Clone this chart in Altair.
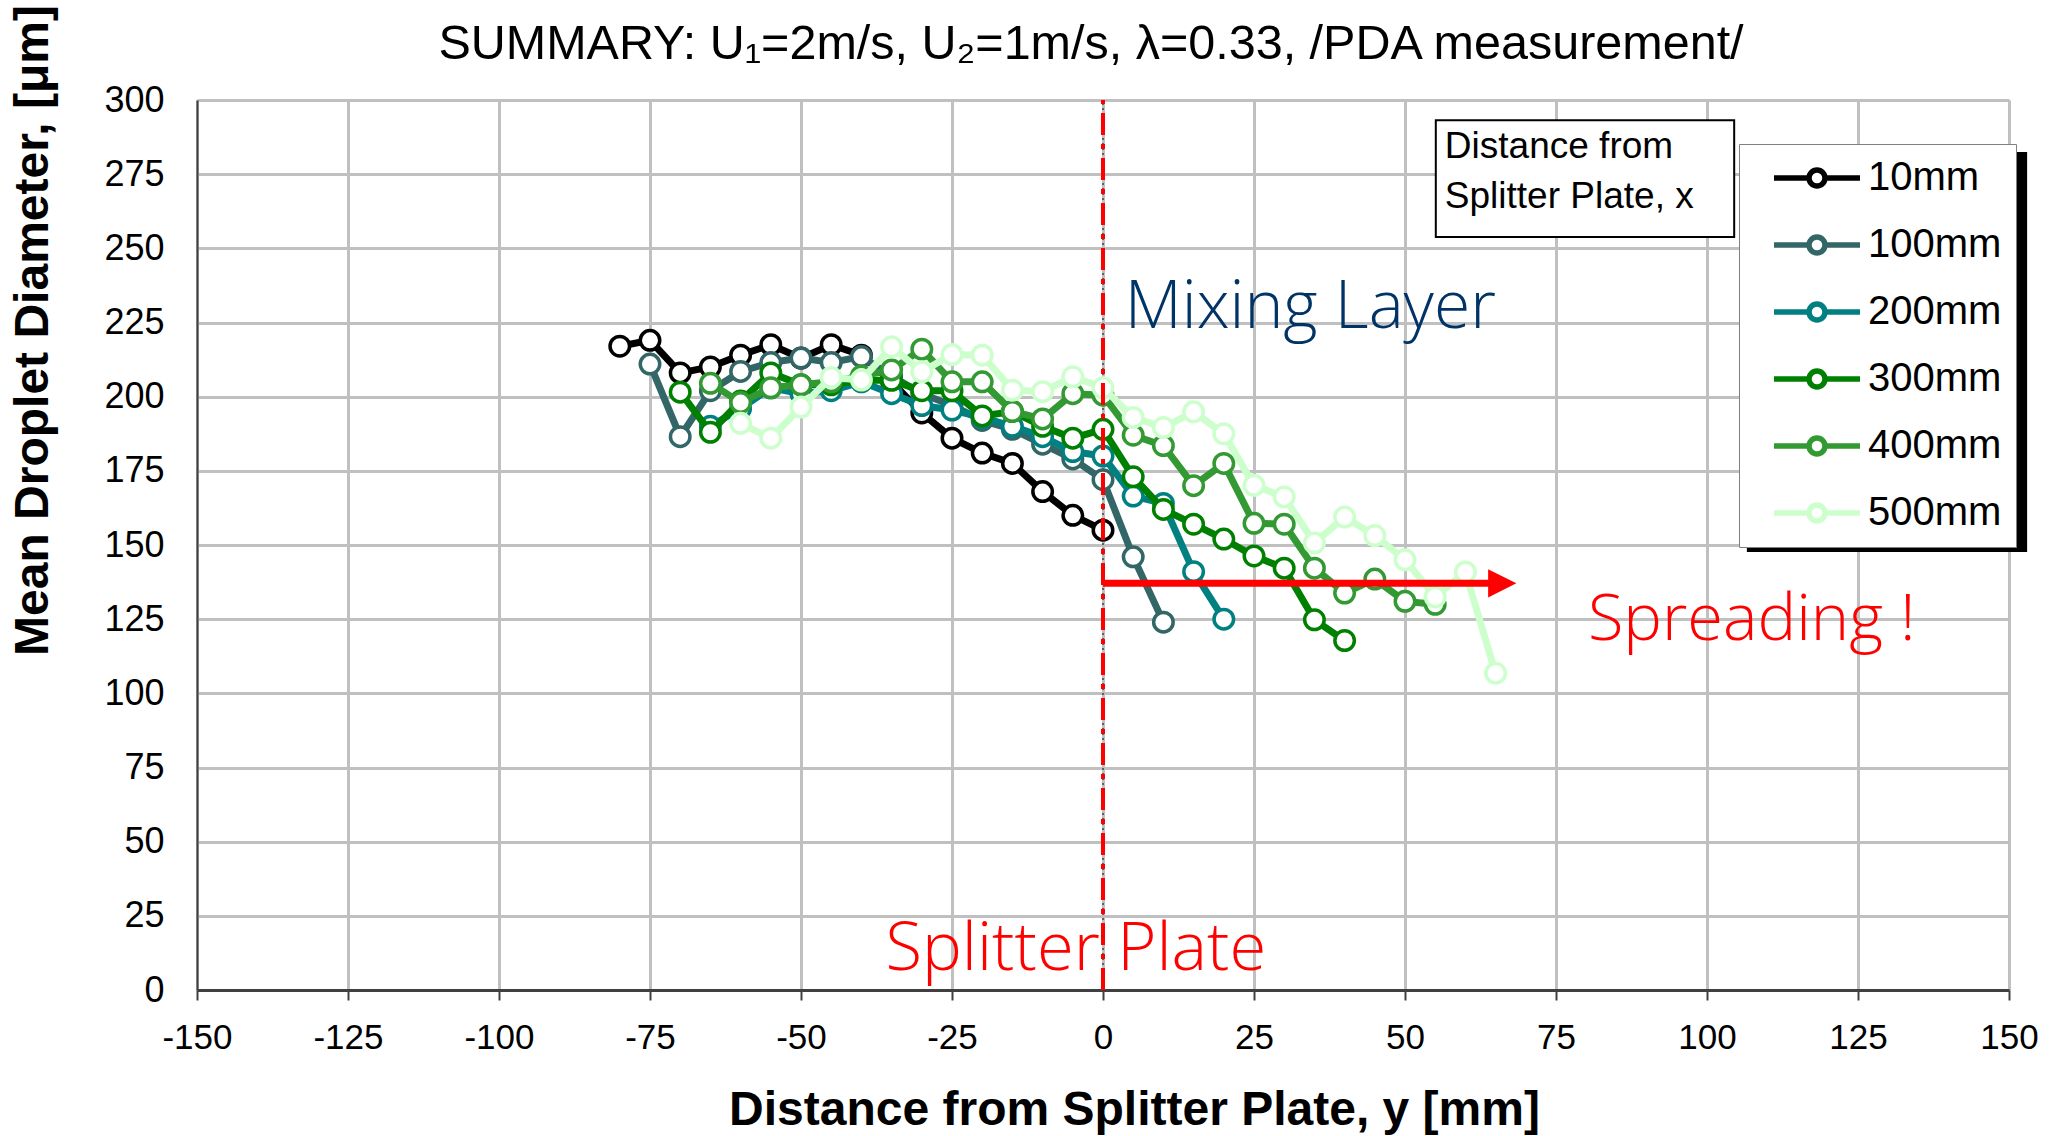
import altair as alt
import pandas as pd

# ---------------- data ----------------
series_names = ["10mm", "100mm", "200mm", "300mm", "400mm", "500mm"]
series_colors = ["#000000", "#336666", "#008080", "#008000", "#339933", "#CCFFCC"]

y_10 = [-80, -75, -70, -65, -60, -55, -50, -45, -40, -35, -30, -25, -20, -15, -10, -5, 0]
d_10 = [217, 219, 208, 210, 214, 217.5, 213, 217.5, 214, 205, 194.5, 186, 181, 177.5, 168, 160, 155]

y_100 = [-75, -70, -65, -60, -55, -50, -45, -40, -35, -30, -25, -20, -15, -10, -5, 0, 5, 10]
d_100 = [211, 186.5, 202, 208.5, 211.5, 213, 211.5, 213.5, 207, 201, 197, 192, 189, 184, 179, 172, 146, 124]

y_200 = [-65, -60, -55, -50, -45, -40, -35, -30, -25, -20, -15, -10, -5, 0, 5, 10, 15, 20]
d_200 = [190, 196, 203, 201, 202, 205, 201, 197, 195.5, 193, 190, 186.5, 181.5, 180, 166.5, 164, 141, 125]

y_300 = [-70, -65, -60, -55, -50, -45, -40, -35, -30, -25, -20, -15, -10, -5, 0, 5, 10, 15, 20, 25, 30, 35, 40]
d_300 = [201.5, 188, 198.5, 208, 204, 204, 205.5, 205.5, 202, 202, 193.5, 195, 190, 186, 189, 173, 162, 157, 152, 146.3, 142.2, 124.8, 117.8]

y_400 = [-65, -60, -55, -50, -45, -40, -35, -30, -25, -20, -15, -10, -5, 0, 5, 10, 15, 20, 25, 30, 35, 40, 45, 50, 55]
d_400 = [204.5, 198, 203, 204, 205, 207, 209, 216, 205, 205, 195, 192.5, 201, 200.5, 187, 183.5, 170, 177.5, 157.3, 157, 142.2, 133.8, 138.5, 131, 130]

y_500 = [-60, -55, -50, -45, -40, -35, -30, -25, -20, -15, -10, -5, 0, 5, 10, 15, 20, 25, 30, 35, 40, 45, 50, 55, 60, 65]
d_500 = [191, 186, 196.5, 206.5, 205.6, 216.8, 208.4, 214.2, 214, 202.2, 201.7, 206.7, 203, 193, 189.6, 194.9, 187.5, 170.1, 166.2, 150.7, 159.4, 153.2, 145, 132.5, 140.9, 106.8]

x_ticks = [-150, -125, -100, -75, -50, -25, 0, 25, 50, 75, 100, 125, 150]
y_ticks = [0, 25, 50, 75, 100, 125, 150, 175, 200, 225, 250, 275, 300]

series_data = {
    "10mm": (y_10, d_10),
    "100mm": (y_100, d_100),
    "200mm": (y_200, d_200),
    "300mm": (y_300, d_300),
    "400mm": (y_400, d_400),
    "500mm": (y_500, d_500),
}

rows = []
for s in series_names:
    ys, ds = series_data[s]
    for a, b in zip(ys, ds):
        rows.append({"series": s, "y": a, "d": b})
df = pd.DataFrame(rows)

W, H = 1812, 890
X_DOMAIN = [-150, 150]
Y_DOMAIN = [0, 300]

xscale = alt.Scale(domain=X_DOMAIN, nice=False, zero=False)
yscale = alt.Scale(domain=Y_DOMAIN, nice=False)
color_scale = alt.Scale(domain=series_names, range=series_colors)

# legend symbol: a line with an open circle in the middle (unit = 10 px)
LEG_PATH = ("M-4.3,0L-0.8,0M0.8,0L4.3,0"
            "M0.8,0A0.8,0.8,0,1,1,-0.8,0A0.8,0.8,0,1,1,0.8,0Z")

legend = alt.Legend(
    orient="none", legendX=1542, legendY=44, title=None,
    symbolType=LEG_PATH, symbolSize=400, symbolStrokeWidth=5.5,
    symbolFillColor="white", symbolOpacity=1, symbolOffset=44,
    labelFont="Liberation Sans", labelFontSize=40, labelColor="black",
    labelOffset=31, rowPadding=27, padding=14,
    fillColor="white", strokeColor="#808080",
)

x_axis = alt.Axis(
    values=x_ticks, labelExpr="'' + datum.value", labelFlush=False, labelOverlap=False,
    title="Distance from Splitter Plate, y [mm]",
    titleFont="Liberation Sans", titleFontSize=48, titleFontWeight="bold",
    titleColor="black", titleX=937, titleY=120, titleBaseline="middle",
    labelFont="Liberation Sans", labelFontSize=35, labelColor="black",
    labelPadding=20, tickSize=10, tickWidth=2, tickColor="#404040",
    domainColor="#404040", domainWidth=3,
    grid=True, gridColor="#C0C0C0", gridWidth=3,
)
y_axis = alt.Axis(
    values=y_ticks, title="Mean Droplet Diameter, [\u03bcm]", labelFlush=False, labelOverlap=False,
    titleFont="Liberation Sans", titleFontSize=48, titleFontWeight="bold",
    titleColor="black", titleX=-164, titleY=230, titleAngle=270,
    titleBaseline="middle", titleAlign="center",
    labelFont="Liberation Sans", labelFontSize=36, labelColor="black",
    labelPadding=33, tickSize=0, domainColor="#404040", domainWidth=2,
    grid=True, gridColor="#C0C0C0", gridWidth=3,
)

base = alt.Chart(df)

# splitter plate line (x = 0)
plate_df = pd.DataFrame({"y": [0], "lo": [0], "hi": [300]})
plate_black = alt.Chart(plate_df).mark_rule(color="black", strokeWidth=1, strokeDash=[2, 3]).encode(
    x=alt.X("y:Q", scale=xscale, axis=x_axis), y=alt.Y("lo:Q", scale=yscale, axis=y_axis), y2="hi:Q")
plate_red = alt.Chart(plate_df).mark_rule(color="#FF0000", strokeWidth=4, strokeDash=[22, 9, 5, 9]).encode(
    x=alt.X("y:Q", scale=xscale), y=alt.Y("lo:Q", scale=yscale), y2="hi:Q")

layers = [plate_black]
for s in series_names:
    sub = base.transform_filter(alt.datum.series == s)
    line = sub.mark_line(strokeWidth=7).encode(
        x=alt.X("y:Q", scale=xscale, axis=x_axis),
        y=alt.Y("d:Q", scale=yscale, axis=y_axis),
        stroke=alt.Stroke("series:N", scale=color_scale, legend=legend),
    )
    pts = sub.mark_point(filled=True, fill="white", size=380, strokeWidth=3.5, opacity=1, shape="circle").encode(
        x=alt.X("y:Q", scale=xscale),
        y=alt.Y("d:Q", scale=yscale),
        stroke=alt.Stroke("series:N", scale=color_scale, legend=legend),
    )
    layers += [line, pts]

layers.append(plate_red)

# spreading arrow
arrow_df = pd.DataFrame({"x0": [0], "x1": [66], "yv": [137.1]})
arrow_line = alt.Chart(arrow_df).mark_rule(color="#FF0000", strokeWidth=7).encode(
    x=alt.X("x0:Q", scale=xscale), x2="x1:Q", y=alt.Y("yv:Q", scale=yscale))
arrow_head = alt.Chart(arrow_df).mark_point(
    shape="M-1,-1L1,0L-1,1Z", filled=True, fill="#FF0000", stroke="#FF0000", size=625, opacity=1
).encode(x=alt.X("x1:Q", scale=xscale), y=alt.Y("yv:Q", scale=yscale))
layers += [arrow_line, arrow_head]

# annotations
ann_df = pd.DataFrame({
    "x": [3.6, -4.5, 107.4],
    "yv": [223.1, 6.8, 118],
    "label": ["Mixing Layer", "Splitter Plate", "Spreading !"],
    "col": ["#003366", "#FF0000", "#FF0000"],
    "al": ["left", "center", "center"],
    "fs": [66, 67, 65],
})
for i in range(3):
    r = ann_df.iloc[[i]]
    layers.append(alt.Chart(r).mark_text(
        font="Open Sans", fontSize=int(r["fs"].iloc[0]), fontWeight=300, align=r["al"].iloc[0],
        baseline="alphabetic", color=r["col"].iloc[0]
    ).encode(x=alt.X("x:Q", scale=xscale), y=alt.Y("yv:Q", scale=yscale), text="label:N"))

# legend title box
box_df = pd.DataFrame({"x0": [55.1], "x1": [104.5], "y0": [253.8], "y1": [293.2]})
layers.append(alt.Chart(box_df).mark_rect(fill="white", stroke="black", strokeWidth=2).encode(
    x=alt.X("x0:Q", scale=xscale), x2="x1:Q", y=alt.Y("y0:Q", scale=yscale), y2="y1:Q"))
lt_df = pd.DataFrame({"x": [56.6, 56.6], "yv": [280.4, 263.6], "label": ["Distance from", "Splitter Plate, x"]})
layers.append(alt.Chart(lt_df).mark_text(
    font="Liberation Sans", fontSize=37, align="left", baseline="alphabetic", color="black"
).encode(x=alt.X("x:Q", scale=xscale), y=alt.Y("yv:Q", scale=yscale), text="label:N"))

# legend drop shadow (drawn beneath the legend box)
shadow_df = pd.DataFrame({"x0": [106.6], "x1": [153.0], "y0": [147.6], "y1": [282.5]})
layers.append(alt.Chart(shadow_df).mark_rect(fill="black", opacity=1).encode(
    x=alt.X("x0:Q", scale=xscale), x2="x1:Q", y=alt.Y("y0:Q", scale=yscale), y2="y1:Q"))

chart = alt.layer(*layers).properties(
    width=W, height=H,
    autosize=alt.AutoSizeParams(type="none"),
    padding={"left": 197, "top": 100, "right": 51, "bottom": 146},
    title=alt.TitleParams(
        text="SUMMARY: U\u2081=2m/s, U\u2082=1m/s, \u03bb=0.33, /PDA measurement/",
        font="Liberation Sans", fontSize=48.5, fontWeight="normal", color="black",
        anchor="middle", frame="group", baseline="alphabetic", offset=-103, dx=-12,
    ),
).configure_view(stroke="#808080", strokeWidth=2).configure_legend(strokeWidth=1.5).configure(background="white")

chart.save("out.html", embed_options={"renderer": "svg", "actions": False})
